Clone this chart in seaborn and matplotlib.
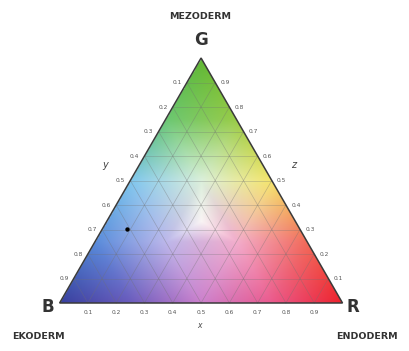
import matplotlib
matplotlib.use("Agg")

import matplotlib.pyplot as plt
import matplotlib.tri as mtri
import numpy as np
import seaborn as sns
from matplotlib.patches import Polygon

sns.set_theme(style="white")

# ternary ticks (fractions along each edge)
ticks = [0.1, 0.2, 0.3, 0.4, 0.5, 0.6, 0.7, 0.8, 0.9]
tick_labels = ["0.1", "0.2", "0.3", "0.4", "0.5", "0.6", "0.7", "0.8", "0.9"]

# colours at a few (r, g) spots of the triangle
anchor_r = [0.0, 0.25, 0.5, 0.75, 1.0,
            0.0, 0.25, 0.5, 0.75,
            0.0, 0.25, 0.5,
            0.0, 0.25,
            0.0,
            1 / 3]
anchor_g = [0.0, 0.0, 0.0, 0.0, 0.0,
            0.25, 0.25, 0.25, 0.25,
            0.5, 0.5, 0.5,
            0.75, 0.75,
            1.0,
            1 / 3]
anchor_rgb = [(0.22, 0.25, 0.62), (0.42, 0.36, 0.74), (0.80, 0.50, 0.80), (0.92, 0.35, 0.55), (0.93, 0.13, 0.17),
              (0.35, 0.55, 0.86), (0.74, 0.72, 0.92), (0.95, 0.68, 0.80), (0.95, 0.42, 0.35),
              (0.50, 0.78, 0.93), (0.86, 0.94, 0.86), (0.96, 0.90, 0.42),
              (0.42, 0.78, 0.45), (0.60, 0.80, 0.28),
              (0.38, 0.72, 0.20),
              (0.98, 0.96, 0.96)]

# the marked point (r, g, b fractions)
point_r = [0.09]
point_g = [0.30]
point_b = [0.61]

H = np.sqrt(3) / 2


def to_xy(r, g):
    r = np.asarray(r, dtype=float)
    g = np.asarray(g, dtype=float)
    return r + g * 0.5, g * H


fig = plt.figure(figsize=(4.09, 3.51), dpi=100)
ax = fig.add_axes([0, 0, 1, 1])
ax.set_xlim(-57 / 288, (409 - 57) / 288)
ax.set_ylim(-48 / 282.9, (351 - 48) / 282.9)
ax.axis("off")

# colour field, shaded between the read anchors
ax_x, ax_y = to_xy(anchor_r, anchor_g)
triang = mtri.Triangulation(ax_x, ax_y)
cols = np.array(anchor_rgb)
n = 400
X, Y = np.meshgrid(np.linspace(0, 1, n), np.linspace(0, H, n))
chan = []
for k in range(3):
    f = mtri.LinearTriInterpolator(triang, cols[:, k])
    chan.append(np.ma.filled(f(X, Y), 1.0))
img = np.clip(np.stack(chan, axis=-1), 0, 1)

tri_xy = np.array([[0, 0], [1, 0], [0.5, H]])
tri = Polygon(tri_xy, closed=True, facecolor="none", edgecolor="#3a3a3a", lw=1.1, zorder=4)
ax.add_patch(tri)
im = ax.imshow(img, extent=(0, 1, 0, H), origin="lower", interpolation="bilinear", zorder=1)
im.set_clip_path(tri)

# lattice lines
lat = dict(color="#707070", lw=0.5, alpha=0.4, zorder=2)
for t in ticks:
    x0, y0 = to_xy(0, t)
    x1, y1 = to_xy(1 - t, t)
    ax.plot([x0, x1], [y0, y1], **lat)
    x0, y0 = to_xy(t, 0)
    x1, y1 = to_xy(t, 1 - t)
    ax.plot([x0, x1], [y0, y1], **lat)
    x0, y0 = to_xy(1 - t, 0)
    x1, y1 = to_xy(0, 1 - t)
    ax.plot([x0, x1], [y0, y1], **lat)

# tick labels
tk = dict(fontsize=4.2, color="#555555", ha="center", va="center")
for t, lab in zip(ticks, tick_labels):
    # left edge: b fraction
    x, y = to_xy(0, 1 - t)
    ax.text(x - 0.035, y, lab, **tk)
    # right edge: g fraction
    x, y = to_xy(1 - t, t)
    ax.text(x + 0.035, y, lab, **tk)
    # bottom edge: r fraction
    x, y = to_xy(t, 0)
    ax.text(x, y - 0.035, lab, **tk)

# the marked point
px, py = to_xy(point_r, point_g)
sns.scatterplot(x=px, y=py, color="black", s=10, ax=ax, zorder=5, edgecolor="none")

# axis letters
ax.text(0.16, 0.488, "y", fontsize=7, style="italic", color="#444444", ha="center", va="center")
ax.text(0.826, 0.488, "z", fontsize=7, style="italic", color="#444444", ha="center", va="center")
ax.text(0.493, -0.08, "x", fontsize=5.5, style="italic", color="#444444", ha="center", va="center")

# corner labels
big = dict(fontsize=12, fontweight="bold", color="#333333", ha="center", va="center")
ax.text(0.5, 0.93, "G", **big)
ax.text(-0.042, -0.014, "B", **big)
ax.text(1.035, -0.014, "R", **big)

name = dict(fontsize=6.8, fontweight="heavy", color="#333333", ha="center", va="center")
ax.text(0.497, 1.011, "MEZODERM", **name)
ax.text(-0.075, -0.12, "EKODERM", **name)
ax.text(1.085, -0.12, "ENDODERM", **name)

fig.savefig("out.png", dpi=100, facecolor="white")
